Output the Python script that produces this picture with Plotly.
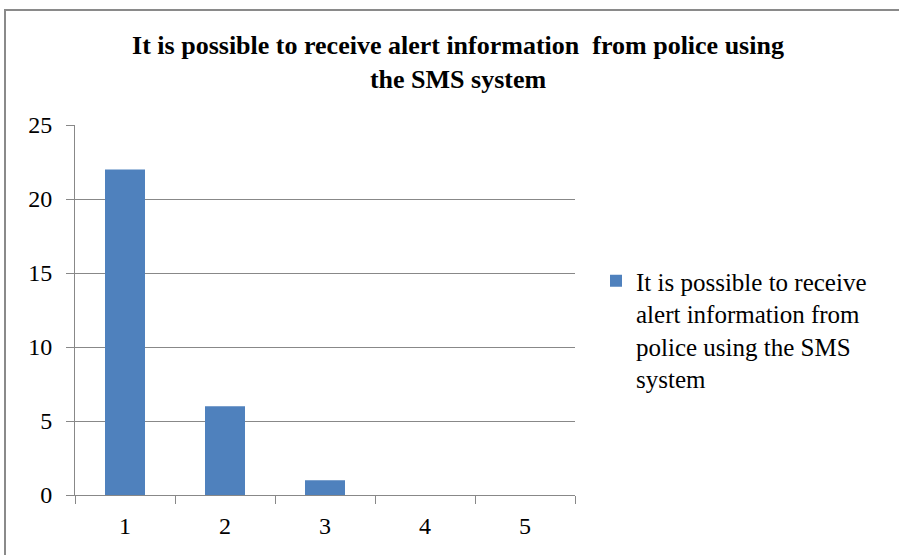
import plotly.graph_objects as go

# Survey responses per rating level
categories = ["1", "2", "3", "4", "5"]
counts = [22, 6, 1, 0, 0]
legend_label = "It is possible to receive<br>alert information from<br>police using the SMS<br>system"
title_text = "It is possible to receive alert information  from police using<br>the SMS system"
y_ticks = [0, 5, 10, 15, 20, 25]

SERIF = "Liberation Serif"
GRID = "#888888"

fig = go.Figure(
    go.Bar(
        x=categories,
        y=counts,
        name=legend_label,
        marker=dict(color="#4F81BD", line=dict(width=0)),
        width=0.4,
        showlegend=True,
    )
)

L, R, T, B = 75, 324, 125, 60
W, H = 899, 555
pw, ph = W - L - R, H - T - B

def px_x(x):
    return (x - L) / pw

def px_y(y):
    return (H - B - y) / ph

fig.update_layout(
    width=W,
    height=H,
    margin=dict(l=L, r=R, t=T, b=B, pad=0),
    paper_bgcolor="white",
    plot_bgcolor="white",
    font=dict(family=SERIF, color="#000000"),
    title=dict(
        text="<b>" + title_text + "</b>",
        font=dict(family=SERIF, size=26, color="#000000"),
        x=px_x(458),
        xref="paper",
        xanchor="center",
        y=1 - 54 / H,
        yanchor="middle",
    ),
    bargap=0.6,
    xaxis=dict(
        type="category",
        showline=True,
        linecolor=GRID,
        linewidth=1,
        ticks="outside",
        tickson="boundaries",
        ticklen=8,
        tickcolor=GRID,
        showgrid=False,
        tickfont=dict(family=SERIF, size=24, color="#000000"),
        ticklabelstandoff=9,
    ),
    yaxis=dict(
        range=[0, 25],
        tickvals=y_ticks,
        showline=True,
        linecolor=GRID,
        linewidth=1,
        ticks="outside",
        ticklen=8,
        tickcolor=GRID,
        showgrid=True,
        gridcolor=GRID,
        gridwidth=1,
        zeroline=False,
        tickfont=dict(family=SERIF, size=24, color="#000000"),
        ticklabelstandoff=9,
    ),
    legend=dict(
        x=px_x(596),
        y=px_y(258),
        xanchor="left",
        yanchor="top",
        valign="top",
        font=dict(family=SERIF, size=25, color="#000000"),
        bgcolor="rgba(0,0,0,0)",
        itemwidth=30,
    ),
    shapes=[
        dict(
            type="rect",
            xref="paper",
            yref="paper",
            x0=px_x(5),
            x1=px_x(910),
            y0=px_y(570),
            y1=px_y(10),
            line=dict(color="#8a8a8a", width=2),
            fillcolor="rgba(0,0,0,0)",
            layer="below",
        )
    ],
)

fig.write_html("out.html")
